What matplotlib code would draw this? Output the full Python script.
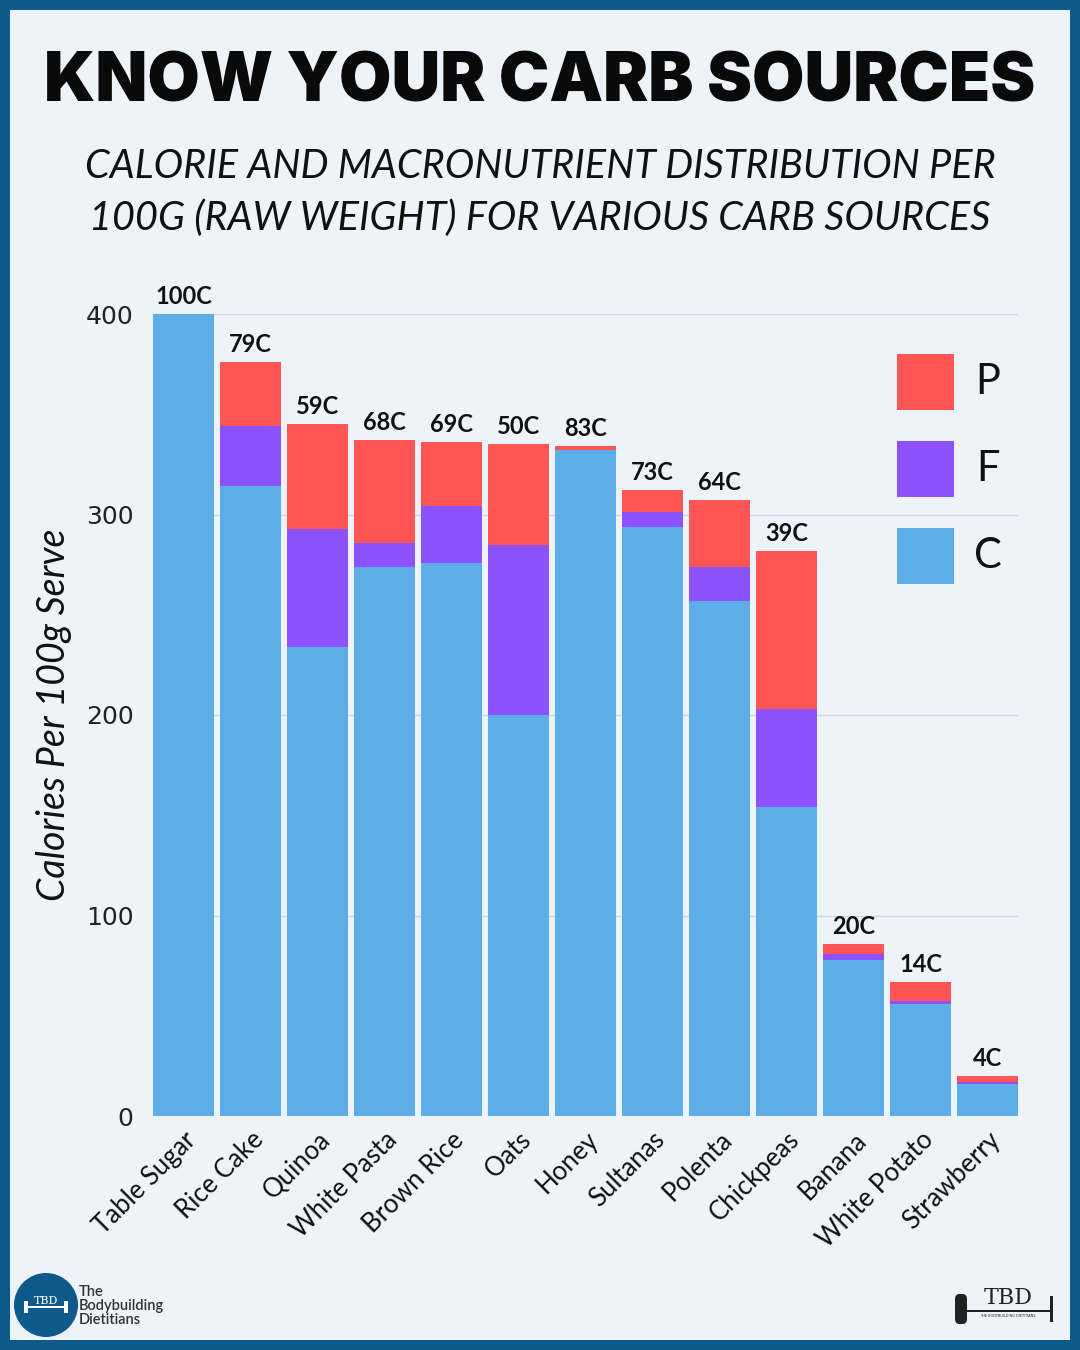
import numpy as np
import matplotlib
matplotlib.use("Agg")
import matplotlib.pyplot as plt
from matplotlib.patches import Rectangle, Ellipse, FancyBboxPatch

# data (kcal per 100 g)
foods = ["Table Sugar", "Rice Cake", "Quinoa", "White Pasta", "Brown Rice",
         "Oats", "Honey", "Sultanas", "Polenta", "Chickpeas", "Banana",
         "White Potato", "Strawberry"]
carb = [400, 314, 234, 274, 276, 200, 332, 294, 257, 154, 78, 56, 16]
fat = [0, 30, 59, 12, 28, 85, 0, 7, 17, 49, 3, 1.5, 1]
protein = [0, 32, 52, 51, 32, 50, 2, 11, 33, 79, 5, 9.5, 3]
carb_pct = ["100C", "79C", "59C", "68C", "69C", "50C", "83C", "73C", "64C",
            "39C", "20C", "14C", "4C"]
yticks = [0, 100, 200, 300, 400]

BLUE = "#5DADE8"
PURPLE = "#8C52FF"
RED = "#FF5555"
BG = "#EEF3F9"
NAVY = "#0E5A8A"

fig = plt.figure(figsize=(10.8, 13.5), dpi=100)
fig.patch.set_facecolor(NAVY)
# inner light panel
fig.patches.append(Rectangle((10 / 1080, 10 / 1350), 1 - 20 / 1080, 1 - 20 / 1350,
                             transform=fig.transFigure, facecolor=BG,
                             edgecolor="none", zorder=-5))

# titles
fig.text(0.5, 1 - 83 / 1350, "KNOW YOUR CARB SOURCES", ha="center", va="center",
         fontsize=48.7, fontweight="black", family="Inter", color="#0a0a0a")
fig.text(0.5, 1 - 167 / 1350, "CALORIE AND MACRONUTRIENT DISTRIBUTION PER",
         ha="center", va="center", fontsize=28.5, style="italic",
         fontweight="normal", family="Lato", color="#111111")
fig.text(0.5, 1 - 218 / 1350, "100G (RAW WEIGHT) FOR VARIOUS CARB SOURCES",
         ha="center", va="center", fontsize=28.5, style="italic",
         fontweight="normal", family="Lato", color="#111111")

ax = fig.add_axes([153 / 1080, 1 - 1116 / 1350, (1018 - 153) / 1080, (1116 - 314) / 1350])
ax.set_facecolor("none")
x = np.arange(len(foods))
w = 0.91
carb = np.array(carb)
fat = np.array(fat)
protein = np.array(protein)
ax.bar(x, carb, w, color=BLUE, zorder=3)
ax.bar(x, fat, w, bottom=carb, color=PURPLE, zorder=3)
ax.bar(x, protein, w, bottom=carb + fat, color=RED, zorder=3)
tot = carb + fat + protein
for xi, t, lab in zip(x, tot, carb_pct):
    ax.text(xi, t + 3, lab, ha="center", va="bottom", fontsize=17,
            fontweight="bold", family="Lato", color="#111111", clip_on=False)

ax.set_xlim(-w / 2, len(foods) - 1 + w / 2)
ax.set_ylim(0, 400)
ax.set_yticks(yticks)
ax.set_yticklabels([str(v) for v in yticks], fontsize=18, family="DejaVu Sans",
                   color="#222222")
ax.tick_params(axis="y", length=0, pad=14)
ax.tick_params(axis="x", length=0, pad=8)
ax.set_xticks(x)
ax.set_xticklabels(foods, rotation=45, ha="right", rotation_mode="anchor",
                   fontsize=18.5, family="Lato", color="#111111")
for v in yticks[1:]:
    ax.axhline(v, color="#cfd6dd", lw=1, zorder=1)
for s in ax.spines.values():
    s.set_visible(False)
ax.set_ylabel("Calories Per 100g Serve", fontsize=27, style="italic",
              family="Lato", color="#111111")
ax.yaxis.set_label_coords(-0.094, 0.5)

# legend
for lab, col, ytop in [("P", RED, 354), ("F", PURPLE, 441), ("C", BLUE, 528)]:
    fig.patches.append(Rectangle((897 / 1080, 1 - (ytop + 56) / 1350), 57 / 1080, 56 / 1350,
                                 transform=fig.transFigure, facecolor=col,
                                 edgecolor="none", zorder=4))
    fig.text(988 / 1080, 1 - (ytop + 28) / 1350, lab, ha="center", va="center",
             fontsize=30, family="Lato", color="#111111")

# footer logos
fig.patches.append(Ellipse((46 / 1080, 1 - 1305 / 1350), 64 / 1080, 64 / 1350,
                           transform=fig.transFigure, facecolor=NAVY,
                           edgecolor="none", zorder=4))
fig.text(46 / 1080, 1 - 1301 / 1350, "TBD", ha="center", va="center",
         fontsize=8, family="DejaVu Serif", color="white", zorder=5)
fig.patches.append(Rectangle((24 / 1080, 1 - 1308 / 1350), 44 / 1080, 2 / 1350,
                             transform=fig.transFigure, facecolor="white",
                             edgecolor="none", zorder=5))
for px in (24, 64):
    fig.patches.append(Rectangle((px / 1080, 1 - 1313 / 1350), 4 / 1080, 12 / 1350,
                                 transform=fig.transFigure, facecolor="white",
                                 edgecolor="none", zorder=5))
fig.text(79 / 1080, 1 - 1306 / 1350, "The\nBodybuilding\nDietitians", ha="left",
         va="center", fontsize=10.5, family="Lato", fontweight="semibold",
         color="#333333", linespacing=1.0)
fig.text(1008 / 1080, 1 - 1298 / 1350, "TBD", ha="center", va="center",
         fontsize=16, family="DejaVu Serif", color="#222222")
fig.text(1008 / 1080, 1 - 1316 / 1350, "THE BODYBUILDING DIETITIANS", ha="center",
         va="center", fontsize=2.5, family="DejaVu Sans", color="#222222")
fig.patches.append(Rectangle((965 / 1080, 1 - 1312 / 1350), 85 / 1080, 2 / 1350,
                             transform=fig.transFigure, facecolor="#222222",
                             edgecolor="none", zorder=4))
fig.patches.append(FancyBboxPatch((955 / 1080, 1 - 1324 / 1350), 12 / 1080, 30 / 1350,
                                  boxstyle="round,pad=0,rounding_size=0.004",
                                  transform=fig.transFigure, facecolor="#222222",
                                  edgecolor="none", zorder=4))
fig.patches.append(Rectangle((1050 / 1080, 1 - 1322 / 1350), 3 / 1080, 26 / 1350,
                             transform=fig.transFigure, facecolor="#222222",
                             edgecolor="none", zorder=4))

fig.savefig("out.png", dpi=100, facecolor=fig.get_facecolor())
